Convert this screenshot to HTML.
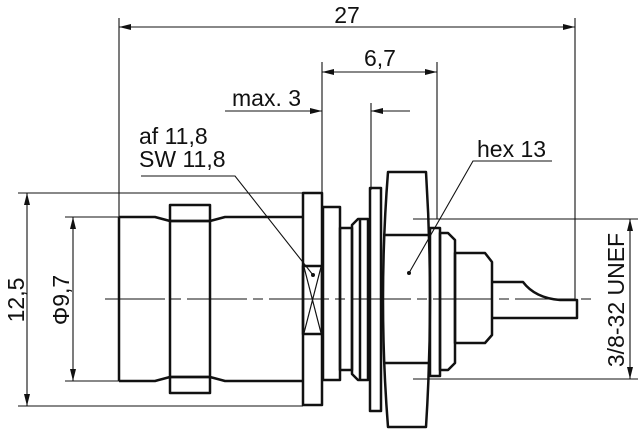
<!DOCTYPE html>
<html><head><meta charset="utf-8"><style>
html,body{margin:0;padding:0;background:#fff;}
svg{display:block;}
text{font-family:"Liberation Sans",sans-serif;fill:#111;}
</style></head><body>
<svg width="640" height="429" viewBox="0 0 640 429" xmlns="http://www.w3.org/2000/svg">
<defs>
<marker id="a" viewBox="0 0 12 6" refX="12" refY="3" markerWidth="12" markerHeight="6" orient="auto-start-reverse" markerUnits="userSpaceOnUse"><path d="M0,0 L12,3 L0,6 Z" fill="#111"/></marker>
</defs>
<g stroke="#111" stroke-width="1.1" fill="none">
<line x1="119" y1="18" x2="119" y2="217"/>
<line x1="575" y1="18" x2="575" y2="300"/>
<line x1="119" y1="27" x2="575" y2="27" marker-start="url(#a)" marker-end="url(#a)"/>
<line x1="322" y1="62" x2="322" y2="193"/>
<line x1="437" y1="62" x2="437" y2="219"/>
<line x1="322" y1="72" x2="437" y2="72" marker-start="url(#a)" marker-end="url(#a)"/>
<line x1="225" y1="111" x2="322" y2="111" marker-end="url(#a)"/>
<line x1="410" y1="111" x2="371" y2="111" marker-end="url(#a)"/>
<line x1="371" y1="103" x2="371" y2="190"/>
<line x1="18" y1="193" x2="303" y2="193"/>
<line x1="18" y1="406" x2="303" y2="406"/>
<line x1="27" y1="193" x2="27" y2="406" marker-start="url(#a)" marker-end="url(#a)"/>
<line x1="65" y1="217" x2="119" y2="217"/>
<line x1="65" y1="381" x2="119" y2="381"/>
<line x1="73" y1="217" x2="73" y2="381" marker-start="url(#a)" marker-end="url(#a)"/>
<line x1="413" y1="219" x2="638" y2="219"/>
<line x1="413" y1="379" x2="638" y2="379"/>
<line x1="630" y1="219" x2="630" y2="379" marker-start="url(#a)" marker-end="url(#a)"/>
<line x1="105" y1="299" x2="591" y2="299" stroke-dasharray="60,6,10,6"/>
<polyline points="141,176 235,176 313,275"/>
<polyline points="552,161 473,161 409,273"/>
</g>
<circle cx="313" cy="275" r="2" fill="#111"/>
<circle cx="409" cy="273" r="2" fill="#111"/>
<g stroke="#111" stroke-width="2.5" fill="none" stroke-linejoin="round">
<path d="M119,217 L155,217 L170,221 L210,221 L225,217 L303,217"/>
<path d="M119,381 L155,381 L170,377 L210,377 L225,381 L303,381"/>
<line x1="119" y1="217" x2="119" y2="381"/>
<rect x="170" y="205" width="40" height="188"/>
<line x1="170" y1="221" x2="210" y2="221"/>
<line x1="170" y1="377" x2="210" y2="377"/>
<rect x="303" y="193" width="19" height="212"/>
<rect x="303" y="266" width="19" height="68"/>
<line x1="304" y1="267" x2="321" y2="333" stroke-width="1.2"/>
<line x1="321" y1="267" x2="304" y2="333" stroke-width="1.2"/>
<rect x="323" y="207" width="17" height="173"/>
<rect x="340" y="228" width="12" height="142"/>
<path d="M352,225 L358,219 L368,219 L368,380 L358,380 L352,374 Z"/>
<line x1="360" y1="219" x2="360" y2="380"/>
<rect x="370" y="188" width="11" height="223"/>
<path d="M388,172 L426,172 Q434,300 426,427 L388,427 Q378,300 388,172 Z"/>
<line x1="383" y1="235" x2="430" y2="235"/>
<line x1="383" y1="363" x2="430" y2="363"/>
<rect x="430" y="228" width="10" height="148"/>
<path d="M440,233 L448,233 L455,240 L455,363 L448,370 L440,370 Z"/>
<path d="M455,253 L485,253 L492,262 L492,335 L485,343 L455,343 Z"/>
<path d="M492,282 L523,282 Q535,298 560,300 L577,300 L577,318 L492,318"/>
</g>
<g font-size="23">
<text x="347" y="23" text-anchor="middle">27</text>
<text x="380" y="66" text-anchor="middle">6,7</text>
<text x="232" y="106">max. 3</text>
<text x="139" y="144">af 11,8</text>
<text x="139" y="167">SW 11,8</text>
<text x="477" y="157">hex 13</text>
<text transform="translate(24,300) rotate(-90)" text-anchor="middle">12,5</text>
<text transform="translate(69,300) rotate(-90)" text-anchor="middle">Φ9,7</text>
<text transform="translate(624,300) rotate(-90)" text-anchor="middle">3/8-32 UNEF</text>
</g>
</svg>
</body></html>
